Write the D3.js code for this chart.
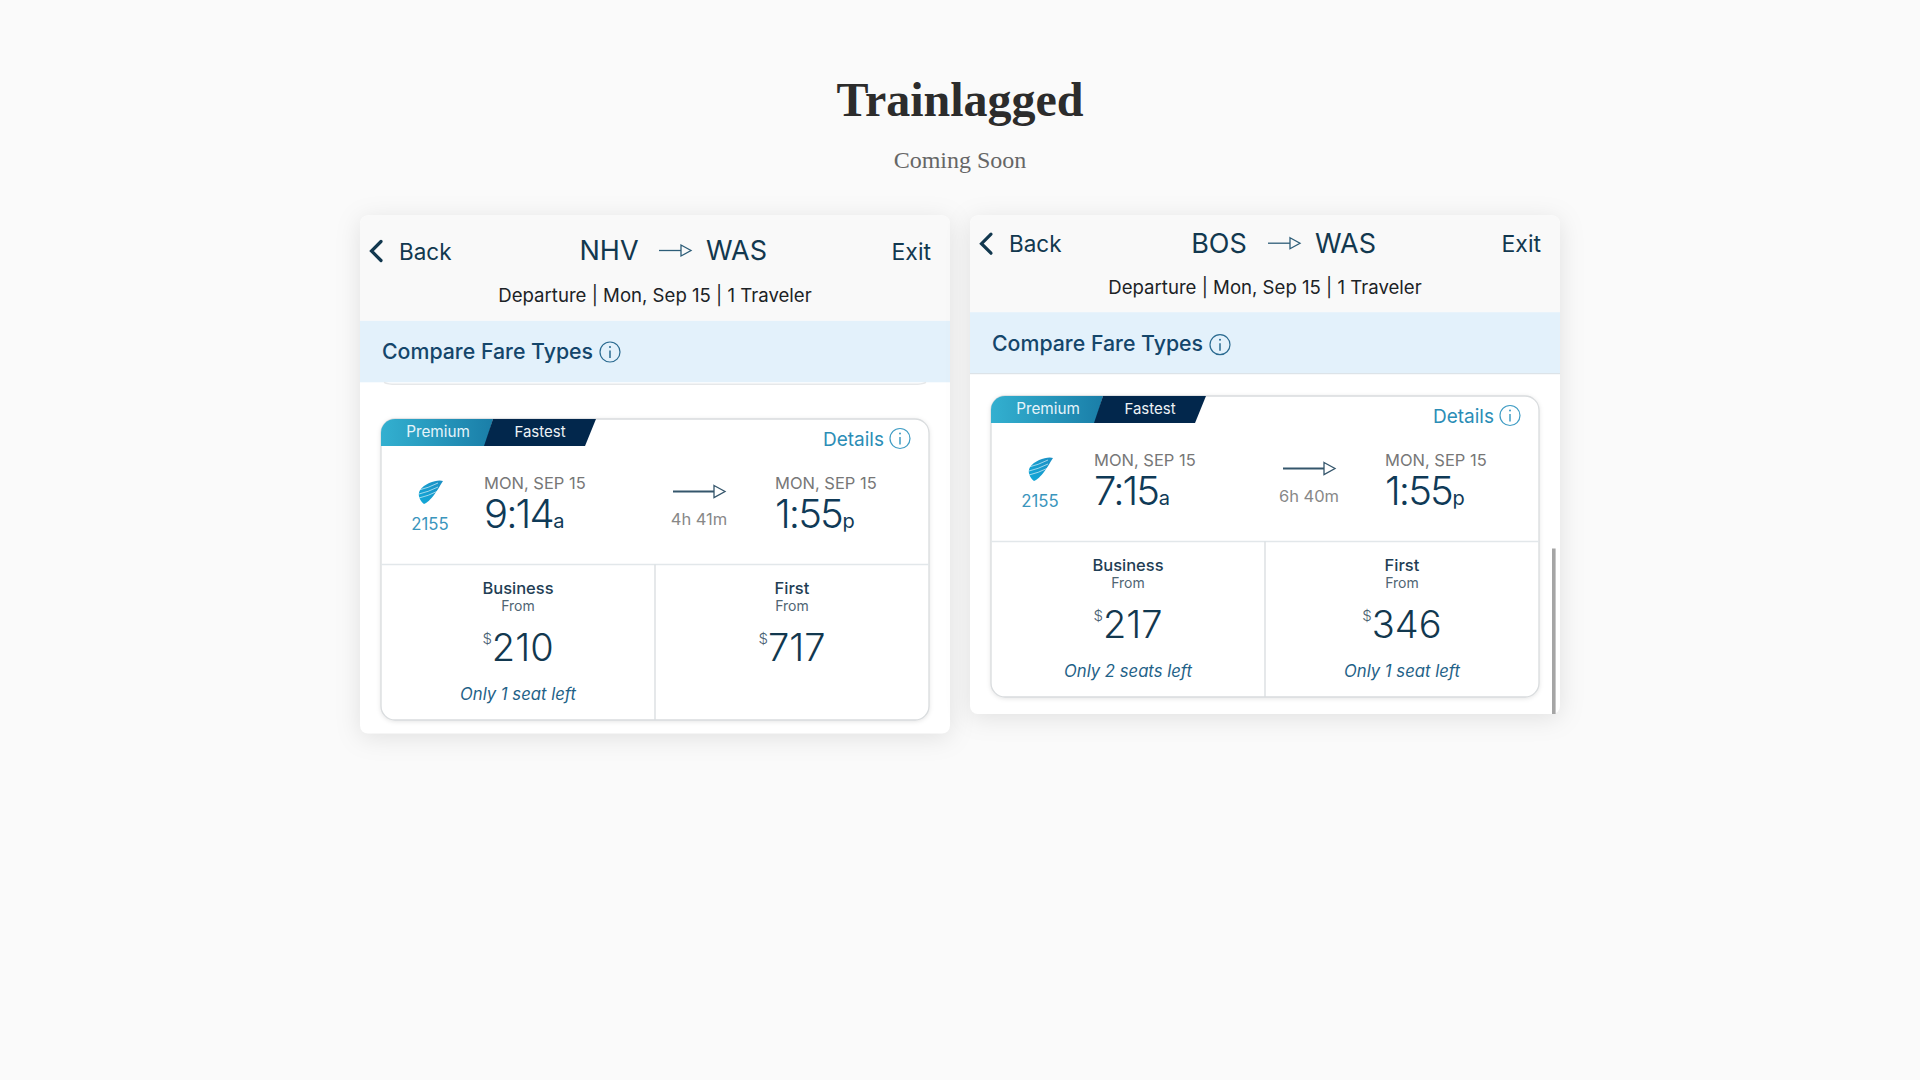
<!DOCTYPE html>
<html lang="en">
<head>
    <meta charset="UTF-8">
    <title>Trainlagged</title>
    <style>
        html, body { margin: 0; background: #fafafa; }
        svg { display: block; }
        text { font-family: Inter, Roboto, sans-serif; }
        .heading { font-family: "Liberation Serif", serif; text-anchor: middle; }
    </style>
    <script src="https://d3js.org/d3.v7.min.js"></script>
</head>
<body>
    <svg width="1920" height="1080"></svg>
    <script>
        // Values
        const origins = ["NHV", "BOS"];
        const destinations = ["WAS", "WAS"];
        const subtitle = "Departure | Mon, Sep 15 | 1 Traveler";
        const tags = ["Premium", "Fastest"];
        const trainNumbers = ["2155", "2155"];
        const dateLabels = ["MON, SEP 15", "MON, SEP 15"];
        const departTimes = ["9:14", "7:15"];
        const departSuffix = ["a", "a"];
        const arriveTimes = ["1:55", "1:55"];
        const arriveSuffix = ["p", "p"];
        const durations = ["4h 41m", "6h 40m"];
        const fareClasses = ["Business", "First"];
        const businessPrices = [210, 217];
        const firstPrices = [717, 346];
        const businessSeats = ["Only 1 seat left", "Only 2 seats left"];
        const firstSeats = ["", "Only 1 seat left"];

        // Layout of the two screenshots
        const panelTop = 215.5;
        const panelHeights = [518, 498.5];
        const headerShift = [0, -7.3];
        const bandTops = [105.3, 96.7];
        const cardTops = [203.5, 180.5];
        const cardWidth = 548;
        const cardHeight = 301;

        const navy = "#12384f";
        const teal = "#2b8db6";

        const svg = d3.select("svg");
        const defs = svg.append("defs");

        const premiumGrad = defs.append("linearGradient").attr("id", "premium");
        premiumGrad.append("stop").attr("offset", "0%").attr("stop-color", "#33b0d0");
        premiumGrad.append("stop").attr("offset", "100%").attr("stop-color", "#1a7ea8");

        const wingGrad = defs.append("linearGradient").attr("id", "wing")
            .attr("x1", "1").attr("y1", "0").attr("x2", "0").attr("y2", "1");
        wingGrad.append("stop").attr("offset", "0%").attr("stop-color", "#1d8fc4");
        wingGrad.append("stop").attr("offset", "100%").attr("stop-color", "#12a9d8");

        // Page heading
        svg.append("text").attr("class", "heading")
            .attr("x", 960).attr("y", 116)
            .attr("font-size", 48).attr("font-weight", 700).attr("fill", "#2c2c2c")
            .text("Trainlagged");
        svg.append("text").attr("class", "heading")
            .attr("x", 960).attr("y", 168)
            .attr("font-size", 24).attr("fill", "#666")
            .text("Coming Soon");

        // Scales for panels and fare columns
        const xPanel = d3.scaleBand().domain(d3.range(origins.length)).range([360, 1560]).paddingInner(20 / 610);
        const xFare = d3.scaleBand().domain(fareClasses).range([0, cardWidth]);

        const panelWidth = xPanel.bandwidth();

        function label(sel, x, y, size, fill, txt, anchor) {
            return sel.append("text")
                .attr("x", x).attr("y", y)
                .attr("font-size", size).attr("fill", fill)
                .attr("text-anchor", anchor || "start")
                .text(txt);
        }

        function infoIcon(sel, x, y, r, color) {
            const g = sel.append("g").attr("transform", `translate(${x},${y})`);
            g.append("circle").attr("r", r).attr("fill", "none").attr("stroke", color).attr("stroke-width", 1.2);
            g.append("line").attr("y1", -1.5).attr("y2", r * 0.6).attr("stroke", color).attr("stroke-width", 1.5);
            g.append("circle").attr("cy", -r * 0.5).attr("r", 1).attr("fill", color);
        }

        function arrow(sel, x1, x2, y, color, width, head) {
            sel.append("line").attr("x1", x1).attr("x2", x2 - head).attr("y1", y).attr("y2", y)
                .attr("stroke", color).attr("stroke-width", width);
            sel.append("path")
                .attr("d", `M${x2 - head},${y - head * 0.55}L${x2},${y}L${x2 - head},${y + head * 0.55}Z`)
                .attr("fill", "none").attr("stroke", color).attr("stroke-width", 1.3);
        }

        function timeText(sel, x, y, time, suffix) {
            const t = label(sel, x, y, 40, "#0f3a57", "").attr("font-weight", 300);
            t.append("tspan").attr("letter-spacing", -1.9).text(time);
            t.append("tspan").attr("font-size", 20).attr("font-weight", 400).attr("dx", 0.5).text(suffix);
        }

        function drawPanel(i) {
            const panel = svg.append("g").attr("transform", `translate(${xPanel(i)},${panelTop})`);
            const h = panelHeights[i];
            const dy = headerShift[i];
            const bandTop = bandTops[i];

            panel.append("rect").attr("width", panelWidth).attr("height", h).attr("rx", 8)
                .attr("fill", "#fff").style("filter", "drop-shadow(0 4px 12px rgba(0,0,0,0.10))");

            // Grey header with rounded top corners
            panel.append("path")
                .attr("d", `M0,${bandTop}V8A8,8 0 0 1 8,0H${panelWidth - 8}A8,8 0 0 1 ${panelWidth},8V${bandTop}Z`)
                .attr("fill", "#f9f9f9");

            panel.append("path")
                .attr("d", `M21,${26 + dy}L11.5,${35.5 + dy}L21,${45 + dy}`)
                .attr("fill", "none").attr("stroke", navy).attr("stroke-width", 3.2).attr("stroke-linecap", "round");
            label(panel, 39, 44 + dy, 22.5, navy, "Back");
            label(panel, 249, 44.5 + dy, 27, navy, origins[i], "middle");
            arrow(panel, 299 - i, 331 - i, 35 + dy, "#2d5d78", 1.3, 10);
            label(panel, 346 - i, 44.5 + dy, 27, navy, destinations[i]);
            label(panel, 571, 44 + dy, 23, navy, "Exit", "end");
            label(panel, 295, 86 + dy, 18.6, "#1c2326", subtitle, "middle");

            // Blue band
            panel.append("rect").attr("y", bandTop).attr("width", panelWidth).attr("height", 61.5)
                .attr("fill", "#e3f1fb");
            if (i === 0) {
                // Bottom edge of the card scrolled behind the band
                panel.append("path").attr("d", `M24,${bandTop + 61.5}Q28,${bandTop + 63.5} 36,${bandTop + 63.5}H554Q562,${bandTop + 63.5} 566,${bandTop + 61.5}`)
                    .attr("fill", "none").attr("stroke", "#e6e8ea").attr("stroke-width", 1.5);
            } else {
                panel.append("line").attr("x1", 0).attr("x2", panelWidth)
                    .attr("y1", bandTop + 61.5).attr("y2", bandTop + 61.5).attr("stroke", "#d9dfe3");
            }
            label(panel, 22, 143 + dy, 21.3, "#14466b", "Compare Fare Types").attr("font-weight", 500);
            infoIcon(panel, 250, 136.5 + dy, 10, "#2a6a90");

            // Fare card
            const card = panel.append("g").attr("transform", `translate(21,${cardTops[i]})`);
            card.append("rect").attr("width", cardWidth).attr("height", cardHeight).attr("rx", 14)
                .attr("fill", "#fff").attr("stroke", "#d9dcde").attr("stroke-width", 1.3)
                .style("filter", "drop-shadow(0 1px 2px rgba(0,0,0,0.10))");

            card.append("path").attr("d", "M0,27V14A14,14 0 0 1 14,0H112L104,27Z").attr("fill", "url(#premium)");
            card.append("path").attr("d", "M112,0H215L204,27H103Z").attr("fill", "#02274c");
            label(card, 57, 18, 15.3, "#e6f4fa", tags[0], "middle");
            label(card, 159, 18, 15, "#eef2f6", tags[1], "middle");

            label(card, 503, 26.5, 19, teal, "Details", "end");
            infoIcon(card, 519, 19.5, 10, "#3f9cc4");

            // Wing logo
            const wing = card.append("g").attr("transform", "translate(49,73)");
            wing.append("path")
                .attr("d", "M13,-11C8,-13 -5,-9 -10,-2C-13,3 -10,9 -6,12C-3,11 1,7 4,3C8,-2 10,-7 13,-11Z")
                .attr("fill", "url(#wing)");
            wing.selectAll("path.stripe").data([-2, 2, 6]).enter().append("path").attr("class", "stripe")
                .attr("d", d => `M${-11},${d}Q-2,${d - 2} ${8},${d - 7}`)
                .attr("fill", "none").attr("stroke", "#fff").attr("stroke-width", 0.6);
            label(card, 49, 110.5, 16.8, "#3a95bd", trainNumbers[i], "middle");

            // Timetable row
            label(card, 103, 69.5, 16.5, "#777", dateLabels[i]);
            timeText(card, 103, 109, departTimes[i], departSuffix[i]);
            arrow(card, 292, 344, 72.5, "#35566c", 2, 11);
            label(card, 318, 106, 16.5, "#888", durations[i], "middle");
            label(card, 394, 69.5, 16.5, "#777", dateLabels[i]);
            timeText(card, 394, 109, arriveTimes[i], arriveSuffix[i]);

            card.append("line").attr("x1", 0).attr("x2", cardWidth).attr("y1", 145.5).attr("y2", 145.5)
                .attr("stroke", "#e2e7ea").attr("stroke-width", 1.3);
            card.append("line").attr("x1", xFare("First")).attr("x2", xFare("First")).attr("y1", 145.5).attr("y2", cardHeight)
                .attr("stroke", "#d8dcdf").attr("stroke-width", 1.3);

            // Fare columns
            const prices = [businessPrices[i], firstPrices[i]];
            const seats = [businessSeats[i], firstSeats[i]];
            fareClasses.forEach((fare, k) => {
                const cx = xFare(fare) + xFare.bandwidth() / 2;
                label(card, cx, 175, 16.5, "#1f3e55", fare, "middle").attr("font-weight", 500);
                label(card, cx, 192, 14, "#4f6573", "From", "middle");
                const p = label(card, cx, 242, 38, "#12384f", "", "middle").attr("font-weight", 300);
                p.append("tspan").attr("font-size", 15).attr("dy", -17).attr("fill", "#4a6272").text("$");
                p.append("tspan").attr("dy", 17).text(prices[k]);
                label(card, cx, 281, 16.7, "#1f6288", seats[k], "middle").attr("font-style", "italic");
            });

            // Scrollbar on the second panel
            if (i === 1) {
                panel.append("rect").attr("x", 582).attr("y", 333).attr("width", 3.6).attr("height", h - 333)
                    .attr("fill", "#a5a5a5");
            }
        }

        d3.range(origins.length).forEach(drawPanel);
    </script>
</body>
</html>
